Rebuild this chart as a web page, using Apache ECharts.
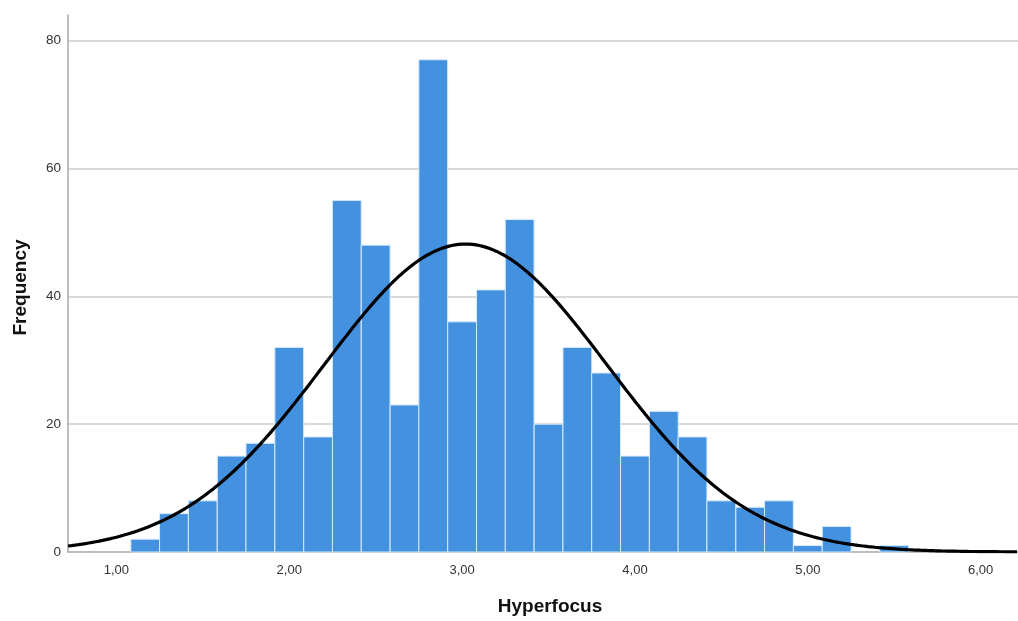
<!DOCTYPE html>
<html>
<head>
<meta charset="utf-8">
<title>Hyperfocus</title>
<script src="https://cdn.jsdelivr.net/npm/echarts@6/dist/echarts.min.js"></script>
<style>
  html, body { margin: 0; padding: 0; background: #fff; }
  #chart { width: 1018px; height: 621px; }
</style>
</head>
<body>
<div id="chart"></div>
<script>
// Histogram bins (midpoints) and their frequencies
const binCenters = [1.167, 1.333, 1.5, 1.667, 1.833, 2.0, 2.167, 2.333, 2.5, 2.667,
                    2.833, 3.0, 3.167, 3.333, 3.5, 3.667, 3.833, 4.0, 4.167, 4.333,
                    4.5, 4.667, 4.833, 5.0, 5.167, 5.333, 5.5];
const frequencies = [2, 6, 8, 15, 17, 32, 18, 55, 48, 23,
                     77, 36, 41, 52, 20, 32, 28, 15, 22, 18,
                     8, 7, 8, 1, 4, 0, 1];
const binWidth = 1 / 6;

// Fitted normal distribution
const meanHyperfocus = 3.02;
const sdHyperfocus = 0.82;
const sampleSize = 594;

// Axis settings
const xTickValues = [1, 2, 3, 4, 5, 6];
const yTickValues = [0, 20, 40, 60, 80];
const xRange = [0.72, 6.216];
const yMax = 84;

const FONT = "'Liberation Sans', Arial, sans-serif";

const barData = binCenters.map((c, i) => [c, frequencies[i]]);

function normalCount(x) {
  const z = (x - meanHyperfocus) / sdHyperfocus;
  return sampleSize * binWidth * Math.exp(-0.5 * z * z) / (sdHyperfocus * Math.sqrt(2 * Math.PI));
}
const curveData = [];
for (let x = xRange[0]; x <= xRange[1] + 1e-9; x += 0.01) {
  curveData.push([x, normalCount(x)]);
}

const chart = echarts.init(document.getElementById('chart'), null, { renderer: 'canvas' });
chart.setOption({
  animation: false,
  backgroundColor: '#ffffff',
  grid: { left: 68, right: 0, top: 15, bottom: 65.5, containLabel: false },
  xAxis: {
    type: 'value',
    min: xRange[0],
    max: xRange[1],
    name: 'Hyperfocus',
    nameLocation: 'middle',
    nameGap: 45,
    nameTextStyle: { fontFamily: FONT, fontSize: 19, fontWeight: 'bold', color: '#111', padding: [0, 0, 0, 14] },
    axisLine: { show: true, lineStyle: { color: '#a8a8a8', width: 1.5 } },
    axisTick: { show: false },
    splitLine: { show: false },
    axisLabel: {
      customValues: xTickValues,
      formatter: v => v.toFixed(2).replace('.', ','),
      fontFamily: FONT, fontSize: 13, color: '#333', margin: 12
    }
  },
  yAxis: {
    type: 'value',
    min: 0,
    max: yMax,
    name: 'Frequency',
    nameLocation: 'middle',
    nameGap: 38,
    nameTextStyle: { fontFamily: FONT, fontSize: 19, fontWeight: 'bold', color: '#111', padding: [0, 8, 0, 0] },
    axisLine: { show: true, lineStyle: { color: '#a8a8a8', width: 1.5 } },
    axisTick: { show: false },
    axisLabel: {
      customValues: yTickValues,
      fontFamily: FONT, fontSize: 13.5, color: '#333', margin: 7,
      padding: [6, 0, 0, 0]
    },
    splitLine: {
      show: true,
      showMinLine: false,
      showMaxLine: false,
      lineStyle: { color: '#cccccc', width: 1.5 }
    }
  },
  series: [
    {
      type: 'custom',
      name: 'Frequency',
      data: barData,
      renderItem: function (params, api) {
        const c = api.value(0);
        const n = api.value(1);
        if (!n) return null;
        const p0 = api.coord([c - binWidth / 2, n]);
        const p1 = api.coord([c + binWidth / 2, 0]);
        return {
          type: 'rect',
          shape: { x: p0[0], y: p0[1], width: p1[0] - p0[0], height: p1[1] - p0[1] },
          style: { fill: '#4391df', stroke: '#d6ebff', lineWidth: 1 }
        };
      },
      z: 2
    },
    {
      type: 'line',
      name: 'Normal',
      data: curveData,
      showSymbol: false,
      smooth: false,
      lineStyle: { color: '#000', width: 3.2 },
      z: 5
    }
  ]
});
</script>
</body>
</html>
